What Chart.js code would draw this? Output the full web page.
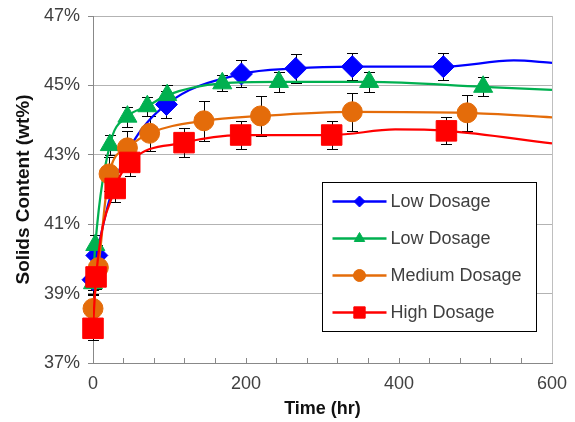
<!DOCTYPE html>
<html>
<head>
<meta charset="utf-8">
<script src="https://cdn.jsdelivr.net/npm/chart.js@4.4.0/dist/chart.umd.min.js"></script>
<style>
  html, body { margin: 0; padding: 0; background: #fff; }
  #wrap { width: 575px; height: 422px; position: relative; }
</style>
</head>
<body>
<div id="wrap"><canvas id="chart"></canvas></div>
<script>
var seriesNames = ["Low Dosage", "Low Dosage", "Medium Dosage", "High Dosage"];
var seriesColors = ["#0000ff", "#00b050", "#e46c0a", "#ff0000"];
var markerStyles = ["rectRot", "triangle", "circle", "rect"];
var markerSizes = [11, 11, 10, 14.5];
var legendMarkerSizes = [5.5, 6, 6, 8];

// measured points: time (hr), solids (wt%), error (+/-)
var blueTime = [0, 5, 96, 194, 265, 339, 458, 606];
var blueVal = [39.4, 40.1, 44.45, 45.33, 45.49, 45.54, 45.54, 45.64];
var blueErr = [0.3, 0.3, 0.4, 0.39, 0.41, 0.38, 0.38, 0.4];

var greenTime = [0, 3, 22, 45, 71, 97, 169, 243, 361, 510];
var greenVal = [39.3, 40.4, 43.28, 44.1, 44.4, 44.72, 45.06, 45.1, 45.1, 44.96];
var greenErr = [0.3, 0.3, 0.28, 0.29, 0.27, 0.29, 0.23, 0.29, 0.29, 0.27];

var orangeTime = [0, 7, 21, 45, 74, 145, 219, 339, 489];
var orangeVal = [38.57, 39.75, 42.45, 43.2, 43.62, 43.98, 44.12, 44.24, 44.21];
var orangeErr = [0.4, 0.45, 0.5, 0.5, 0.5, 0.58, 0.57, 0.54, 0.52];

var redTime = [0, 4, 29, 48, 119, 193, 312, 462];
var redVal = [38.0, 39.48, 42.03, 42.78, 43.35, 43.57, 43.57, 43.69];
var redErr = [0.35, 0.35, 0.39, 0.38, 0.41, 0.4, 0.4, 0.39];

// extra points (hidden or past the last marker)
var blueCurveTime = [24, 48, 550, 600];
var blueCurveVal = [41.9, 43.2, 45.72, 45.65];
var greenCurveTime = [600];
var greenCurveVal = [44.87];
var orangeCurveTime = [600];
var orangeCurveVal = [44.08];
var redCurveTime = [395, 600];
var redCurveVal = [43.73, 43.33];

var yTicks = [37, 39, 41, 43, 45, 47];
var xLabels = [0, 200, 400, 600];

var allTime = [blueTime, greenTime, orangeTime, redTime];
var allVal = [blueVal, greenVal, orangeVal, redVal];
var allErr = [blueErr, greenErr, orangeErr, redErr];
var allCurveTime = [blueCurveTime, greenCurveTime, orangeCurveTime, redCurveTime];
var allCurveVal = [blueCurveVal, greenCurveVal, orangeCurveVal, redCurveVal];

function pts(t, v) {
  var out = [];
  for (var i = 0; i < t.length; i++) out.push({ x: t[i], y: v[i] });
  return out;
}

var datasets = [];
for (var s = 0; s < 4; s++) {
  var markers = pts(allTime[s], allVal[s]).filter(function (p) { return p.x <= 600; });
  var curve = markers.concat(pts(allCurveTime[s], allCurveVal[s]));
  curve.sort(function (a, b) { return a.x - b.x; });
  datasets.push({
    label: seriesNames[s],
    data: curve,
    borderColor: seriesColors[s],
    borderWidth: 2.25,
    pointRadius: 0,
    cubicInterpolationMode: "monotone",
    fill: false,
    order: 8 - s * 2
  });
  datasets.push({
    label: seriesNames[s] + " pts",
    data: markers,
    showLine: false,
    clip: false,
    pointStyle: markerStyles[s],
    pointRadius: markerSizes[s],
    pointBackgroundColor: seriesColors[s],
    pointBorderColor: seriesColors[s],
    pointBorderWidth: 1,
    order: 7 - s * 2
  });
}

var errorBars = {
  id: "errorBars",
  beforeDatasetsDraw: function (chart) {
    var ctx = chart.ctx, x = chart.scales.x, y = chart.scales.y, a = chart.chartArea;
    ctx.save();
    ctx.beginPath();
    ctx.rect(0, a.top - 6, a.right, a.bottom - a.top + 12);
    ctx.clip();
    ctx.strokeStyle = "#000";
    ctx.lineWidth = 1;
    for (var s = 0; s < 4; s++) {
      for (var i = 0; i < allTime[s].length; i++) {
        var px = Math.round(x.getPixelForValue(allTime[s][i])) + 0.5;
        var top = Math.round(y.getPixelForValue(allVal[s][i] + allErr[s][i])) + 0.5;
        var bot = Math.round(y.getPixelForValue(allVal[s][i] - allErr[s][i])) + 0.5;
        ctx.beginPath();
        ctx.moveTo(px, top); ctx.lineTo(px, bot);
        ctx.moveTo(px - 5.5, top); ctx.lineTo(px + 5.5, top);
        ctx.moveTo(px - 5.5, bot); ctx.lineTo(px + 5.5, bot);
        ctx.stroke();
      }
    }
    ctx.restore();
  }
};

var frameAndLegend = {
  id: "frameAndLegend",
  afterDraw: function (chart) {
    var ctx = chart.ctx, a = chart.chartArea;
    ctx.save();
    // right edge of plot area
    ctx.strokeStyle = "#bfbfbf";
    ctx.lineWidth = 1;
    ctx.beginPath();
    ctx.moveTo(Math.round(a.right) + 0.5, a.top);
    ctx.lineTo(Math.round(a.right) + 0.5, a.bottom);
    ctx.stroke();

    // legend box
    var bx = Math.round(a.right - 230) + 0.5, by = Math.round(a.top + 166) + 0.5;
    var bw = 214, bh = 149;
    ctx.fillStyle = "#fff";
    ctx.fillRect(bx, by, bw, bh);
    ctx.strokeStyle = "#000";
    ctx.strokeRect(bx, by, bw, bh);
    ctx.font = "18px 'Liberation Sans', Arial, sans-serif";
    ctx.textBaseline = "middle";
    ctx.textAlign = "left";
    for (var s = 0; s < 4; s++) {
      var ry = by + 19 + s * 37;
      ctx.strokeStyle = seriesColors[s];
      ctx.lineWidth = 2.5;
      ctx.beginPath();
      ctx.moveTo(bx + 10, ry);
      ctx.lineTo(bx + 64, ry);
      ctx.stroke();
      ctx.fillStyle = seriesColors[s];
      ctx.strokeStyle = seriesColors[s];
      ctx.lineWidth = 1;
      Chart.helpers.drawPoint(ctx, {
        pointStyle: markerStyles[s],
        radius: legendMarkerSizes[s],
        rotation: 0,
        borderWidth: 1
      }, bx + 37, ry);
      ctx.fillStyle = "#404040";
      ctx.fillText(seriesNames[s], bx + 68, ry + 1);
    }
    ctx.restore();
  }
};

new Chart(document.getElementById("chart"), {
  type: "line",
  data: { datasets: datasets },
  options: {
    responsive: true,
    maintainAspectRatio: false,
    animation: false,
    events: [],
    layout: { padding: { left: 0, right: 23, top: 16, bottom: 0 } },
    plugins: {
      legend: { display: false },
      tooltip: { enabled: false }
    },
    scales: {
      x: {
        type: "linear",
        min: 0,
        max: 600,
        afterFit: function (scale) {
          scale.height = 59;
          scale.paddingLeft = 0;
          scale.paddingRight = 0;
        },
        ticks: {
          stepSize: 40,
          autoSkip: false,
          maxRotation: 0,
          padding: 15,
          color: "#404040",
          font: { family: "'Liberation Sans', Arial, sans-serif", size: 18 },
          callback: function (v) { return xLabels.indexOf(v) >= 0 ? String(v) : ""; }
        },
        grid: { drawOnChartArea: false, drawTicks: true, tickLength: -5, color: "#888" },
        border: { display: true, color: "#888", width: 1 },
        title: {
          display: true,
          text: "Time (hr)",
          color: "#111",
          font: { family: "'Liberation Sans', Arial, sans-serif", size: 18, weight: "bold" },
          padding: { top: 0, bottom: 2 }
        }
      },
      y: {
        type: "linear",
        min: 37,
        max: 47,
        afterFit: function (scale) {
          scale.width = 93;
          scale.paddingTop = 0;
          scale.paddingBottom = 0;
        },
        afterBuildTicks: function (scale) {
          scale.ticks = yTicks.map(function (v) { return { value: v }; });
        },
        ticks: {
          padding: 8,
          color: "#404040",
          font: { family: "'Liberation Sans', Arial, sans-serif", size: 18 },
          callback: function (v) { return v + "%"; }
        },
        grid: { color: "#b3b3b3", tickColor: "#888", tickLength: 5 },
        border: { display: true, color: "#888", width: 1 },
        title: {
          display: true,
          text: "Solids Content (wt%)",
          color: "#111",
          font: { family: "'Liberation Sans', Arial, sans-serif", size: 19, weight: "bold" },
          padding: { top: 12, bottom: 0 }
        }
      }
    }
  },
  plugins: [errorBars, frameAndLegend]
});
</script>
</body>
</html>
